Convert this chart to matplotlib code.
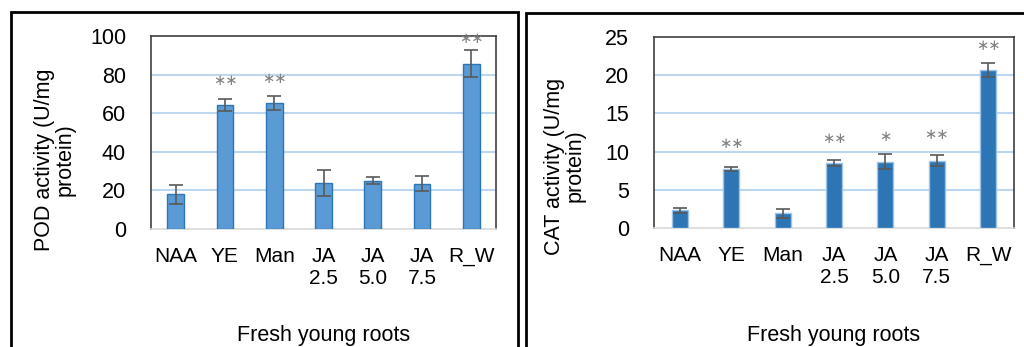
import numpy as np
import matplotlib
matplotlib.use("Agg")
import matplotlib.pyplot as plt
from matplotlib.patches import Rectangle

plt.rcParams["font.family"] = ["Liberation Sans", "DejaVu Sans"]

# Data
categories = ["NAA", "YE", "Man", "JA\n2.5", "JA\n5.0", "JA\n7.5", "R_W"]

pod_mean = [18.0, 64.2, 65.5, 24.0, 25.0, 23.5, 85.7]
pod_err = [5.0, 3.2, 3.6, 6.8, 1.8, 3.8, 7.1]
pod_stars = ["", "**", "**", "", "", "", "**"]
pod_star_y = [0, 77, 78, 0, 0, 0, 98.5]

cat_mean = [2.3, 7.7, 1.95, 8.5, 8.7, 8.8, 20.7]
cat_err = [0.3, 0.3, 0.6, 0.35, 0.95, 0.75, 0.9]
cat_stars = ["", "**", "", "**", "*", "**", "**"]
cat_star_y = [0, 11.0, 0, 11.7, 12.0, 12.2, 23.9]

W, H = 1024, 347
fig = plt.figure(figsize=(W / 100, H / 100), dpi=100)


def px_axes(l, t, r, b):
    return fig.add_axes([l / W, 1 - b / H, (r - l) / W, (b - t) / H])


def draw_panel(ax, means, errs, stars, star_y, ymax, step, color, edge, ylabel, ylab_xy, width):
    x = np.arange(len(categories))
    ax.bar(x, means, width=width, color=color, edgecolor=edge, linewidth=1.0, zorder=3)
    ax.errorbar(x, means, yerr=errs, fmt="none", ecolor="#595959", elinewidth=1.2,
                capsize=5, capthick=1.2, zorder=4)
    for xi, s, sy in zip(x, stars, star_y):
        if s:
            # asterisk operator glyph is centred vertically, closer to the reference
            ax.text(xi, sy, s.replace("*", "\u2217"), ha="center", va="center", fontsize=10.5,
                    color="#808080", family="DejaVu Sans", zorder=5, clip_on=False)
    ax.set_xlim(-0.5, len(categories) - 0.5)
    ax.set_ylim(0, ymax)
    ax.set_yticks(np.arange(0, ymax + step / 2, step))
    ax.set_xticks(x)
    ax.set_xticklabels(categories, fontsize=15, linespacing=1.2)
    ax.tick_params(axis="y", labelsize=15.5, length=0, pad=18)
    ax.tick_params(axis="x", length=0, pad=13)
    for yv in np.arange(step, ymax, step):
        ax.axhline(yv, color="#bdd7ee", linewidth=1.5, zorder=1)
    for side in ["left", "top", "right"]:
        ax.spines[side].set_color("#404040")
        ax.spines[side].set_linewidth(1.2)
    ax.spines["bottom"].set_color("#d9d9d9")
    ax.spines["bottom"].set_linewidth(1.2)
    fig.text(ylab_xy[0] / W, 1 - ylab_xy[1] / H, ylabel, rotation=90, ha="center",
             va="center", fontsize=15.5, linespacing=1.0, multialignment="center")
    bb = ax.get_position()
    fig.text((bb.x0 + bb.x1) / 2, 1 - 336 / H, "Fresh young roots", ha="center",
             va="center", fontsize=15.5)


ax1 = px_axes(151, 36, 496, 229)
draw_panel(ax1, pod_mean, pod_err, pod_stars, pod_star_y, 100, 20, "#5b9bd5", "#2e75b6",
           "POD activity (U/mg\nprotein)", (55, 160), 0.34)

ax2 = px_axes(654, 37, 1014, 228)
draw_panel(ax2, cat_mean, cat_err, cat_stars, cat_star_y, 25, 5, "#2e75b6", "#9dc3e6",
           "CAT activity (U/mg\nprotein)", (565, 166), 0.31)

# panel frames
fig.patches.append(Rectangle((11 / W, -0.1), (518 - 11) / W, 1.1 - 12 / H,
                             transform=fig.transFigure, fill=False, edgecolor="black", linewidth=2))
fig.patches.append(Rectangle((526 / W, -0.1), 0.6, 1.1 - 13 / H,
                             transform=fig.transFigure, fill=False, edgecolor="black", linewidth=2))

fig.savefig("out.png", dpi=100, facecolor="white")
